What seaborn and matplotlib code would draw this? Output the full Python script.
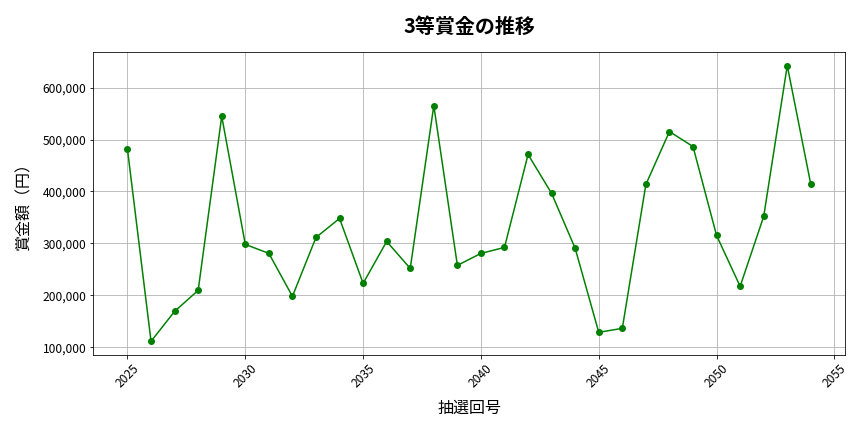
import pandas as pd
import seaborn as sns
import matplotlib.pyplot as plt
import matplotlib.ticker as mticker

# draw numbers and prizes
draws = list(range(2025, 2055))
prizes = [481000, 111500, 169200, 209600, 544800, 298100, 280800, 198100,
          311500, 348100, 223100, 303800, 251900, 565400, 257700, 280800,
          292300, 471200, 396200, 290400, 128800, 136500, 413500, 515400,
          486500, 315400, 217300, 351900, 642300, 413500]

title = '3等賞金の推移'
xlabel = '抽選回号'
ylabel = '賞金額（円）'

df = pd.DataFrame({'draw': draws, 'prize': prizes})

plt.rcParams['font.family'] = ['Noto Sans CJK JP', 'DejaVu Sans']

fig, ax = plt.subplots(figsize=(12, 6), dpi=72)
sns.lineplot(data=df, x='draw', y='prize', marker='o', color='green',
             markersize=7, markeredgewidth=0, linewidth=1.5, ax=ax)

ax.set_title(title, fontsize=20, fontweight='bold', pad=19)
ax.set_xlabel(xlabel, fontsize=16, labelpad=9)
ax.set_ylabel(ylabel, fontsize=16, labelpad=10)
ax.yaxis.set_major_formatter(mticker.FuncFormatter(lambda v, p: f'{int(v):,}'))
ax.tick_params(axis='both', labelsize=12)
plt.setp(ax.get_xticklabels(), rotation=45)
ax.grid(True)

fig.subplots_adjust(left=0.108, right=0.978, top=0.88, bottom=0.178)
fig.savefig('out.png')
